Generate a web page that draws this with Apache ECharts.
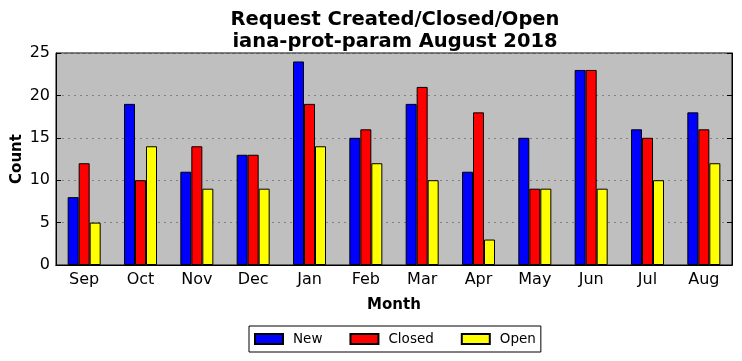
<!DOCTYPE html>
<html><head><meta charset="utf-8">
<script src="https://cdn.jsdelivr.net/npm/echarts@6/dist/echarts.min.js"></script>
<style>html,body{margin:0;padding:0;background:#fff}#c{width:742px;height:361px}</style>
</head><body><div id="c"></div>
<script>
const months = ['Sep','Oct','Nov','Dec','Jan','Feb','Mar','Apr','May','Jun','Jul','Aug'];
const newVals = [8,19,11,13,24,15,19,11,15,23,16,18];
const closedVals = [12,10,14,13,19,16,21,18,9,23,15,16];
const openVals = [5,14,9,9,14,12,10,3,9,9,10,12];
const yTicks = [0,5,10,15,20,25];

const font = 'DejaVu Sans';
const chart = echarts.init(document.getElementById('c'));
const barStyle = c => ({color:c, borderColor:'#000', borderWidth:1});
chart.setOption({
  animation:false,
  textStyle:{fontFamily:font},
  title:{text:'Request Created/Closed/Open\niana-prot-param August 2018', left:390, top:4, textAlign:'center',
    textStyle:{fontFamily:font, fontSize:19.5, fontWeight:'bold', color:'#000', lineHeight:22}},
  legend:{top:326, left:249, itemWidth:28, itemHeight:10, itemGap:27, icon:'rect',
    padding:[6,5,6,5], borderColor:'#000', borderWidth:1, borderRadius:0,
    textStyle:{fontFamily:font, fontSize:13.5, color:'#000', padding:[0,0,0,5]},
    data:['New','Closed','Open']},
  grid:{left:56, right:10, top:53, bottom:96, outerBoundsMode:'none', show:true, backgroundColor:'#bfbfbf', borderColor:'#000', borderWidth:1},
  xAxis:[{type:'category', data:months, name:'Month', nameLocation:'middle', nameGap:33, nameMoveOverlap:false,
    nameTextStyle:{fontFamily:font, fontSize:15, fontWeight:'bold', color:'#000'},
    axisLine:{lineStyle:{color:'#000'}}, axisTick:{inside:true, alignWithLabel:true, length:5, lineStyle:{color:'#000'}},
    axisLabel:{fontFamily:font, fontSize:16, color:'#000', margin:7}},
   {type:'category', data:months, position:'top', axisLine:{lineStyle:{color:'#000'}},
    axisTick:{inside:true, alignWithLabel:true, length:5, lineStyle:{color:'#000'}}, axisLabel:{show:false}}],
  yAxis:[{type:'value', min:yTicks[0], max:yTicks[yTicks.length-1], interval:5, name:'Count', nameLocation:'middle', nameGap:31, nameMoveOverlap:false,
    nameTextStyle:{fontFamily:font, fontSize:15, fontWeight:'bold', color:'#000'},
    axisLine:{show:true, lineStyle:{color:'#000'}}, axisTick:{show:true, inside:true, length:5, lineStyle:{color:'#000'}},
    axisLabel:{fontFamily:font, fontSize:16, color:'#000', margin:6},
    splitLine:{show:true, lineStyle:{color:'#808080', type:[2,4], width:1}}},
   {type:'value', min:0, max:25, interval:5, position:'right', axisLine:{show:true, lineStyle:{color:'#000'}},
    axisTick:{show:true, inside:true, length:5, lineStyle:{color:'#000'}}, axisLabel:{show:false}, splitLine:{show:false}}],
  series:[
    {name:'New', type:'bar', data:newVals, barWidth:11, barGap:'0%', itemStyle:barStyle('#0000ff')},
    {name:'Closed', type:'bar', data:closedVals, barWidth:11, barGap:'0%', itemStyle:barStyle('#ff0000')},
    {name:'Open', type:'bar', data:openVals, barWidth:11, barGap:'0%', itemStyle:barStyle('#ffff00')}
  ]
});
</script></body></html>
